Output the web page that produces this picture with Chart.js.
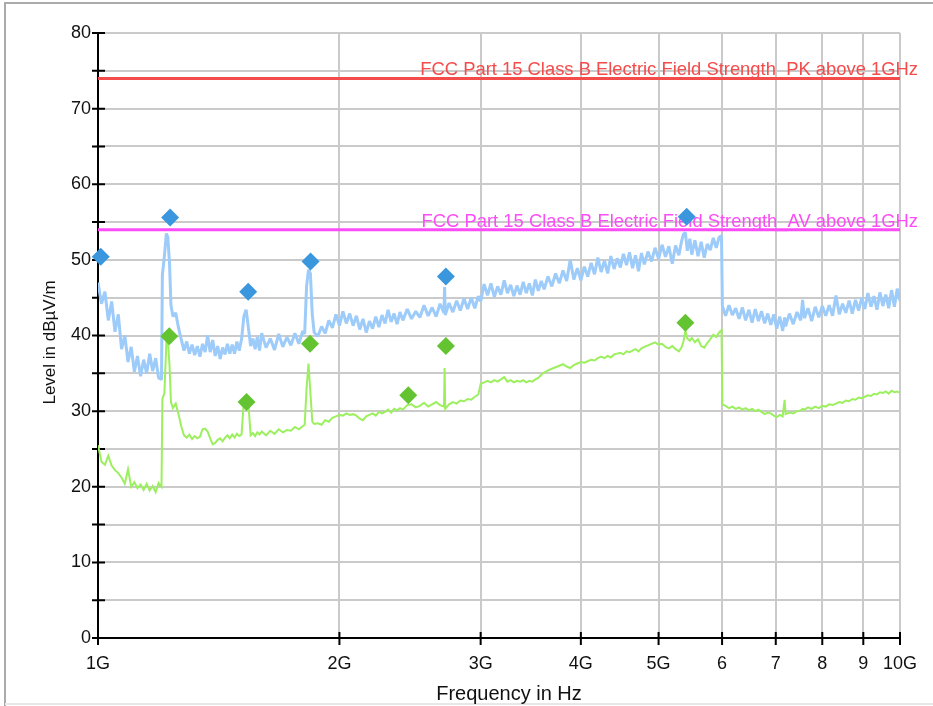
<!DOCTYPE html>
<html>
<head>
<meta charset="utf-8">
<script src="https://cdn.jsdelivr.net/npm/chart.js@4.4.1/dist/chart.umd.min.js"></script>
<style>
  html, body { margin: 0; padding: 0; background: #fff; }
  canvas { display: block; }
</style>
</head>
<body>
<canvas id="emi" width="933" height="706"></canvas>
<script>
// Sweep frequencies in MHz
const freqMHz = [
  1000,1010,1020,1030,1040,1050,1060,1070,1080,1090,
  1100,1110,1120,1130,1140,1150,1160,1170,1180,1190,
  1200,1203,1210,1217,1222,1228,1233,1240,1250,1260,
  1270,1280,1290,1300,1310,1320,1330,1340,1350,1360,
  1370,1380,1390,1400,1410,1420,1430,1440,1450,1460,
  1470,1480,1490,1500,1510,1520,1530,1540,1550,1560,
  1570,1580,1590,1600,1620,1640,1660,1680,1700,1720,
  1740,1760,1780,1800,1810,1820,1830,1840,1850,1860,
  1880,1900,1920,1940,1960,1980,2000,2020,2040,2060,
  2080,2100,2120,2140,2160,2180,2200,2220,2240,2260,
  2280,2300,2320,2340,2360,2380,2400,2430,2460,2490,
  2520,2550,2580,2610,2640,2670,2700,2705,2710,2740,
  2770,2800,2830,2860,2890,2920,2950,2980,3000,3030,
  3060,3090,3120,3150,3180,3210,3240,3270,3300,3330,
  3360,3390,3420,3450,3480,3510,3540,3570,3600,3640,
  3680,3720,3760,3800,3840,3880,3920,3960,4000,4040,
  4080,4120,4160,4200,4240,4280,4320,4360,4400,4440,
  4480,4520,4560,4600,4640,4680,4720,4760,4800,4850,
  4900,4950,5000,5050,5100,5150,5200,5250,5300,5340,
  5370,5400,5430,5470,5500,5550,5600,5650,5700,5750,
  5800,5850,5900,5950,5990,6005,6060,6120,6180,6240,
  6300,6360,6420,6480,6540,6600,6660,6720,6780,6840,
  6900,6960,7020,7080,7140,7180,7200,7280,7360,7440,
  7520,7560,7600,7680,7760,7840,7920,8000,8080,8160,
  8240,8320,8400,8480,8560,8640,8720,8800,8880,8960,
  9040,9120,9200,9280,9360,9440,9520,9600,9680,9760,
  9840,9920,10000
];

// Peak detector trace, dBµV/m
const peakLevel = [
  47.0,44.2,45.8,42.0,44.5,40.5,42.8,38.2,40.0,36.5,
  38.5,35.2,37.3,34.6,36.8,35.0,37.6,35.3,37.0,34.4,
  34.2,48.0,50.5,53.5,53.0,49.5,44.0,42.5,43.0,41.0,
  39.5,38.0,39.2,37.6,38.8,37.4,38.6,37.2,38.9,37.8,
  40.0,37.8,39.4,37.3,38.6,36.9,38.4,37.5,38.9,37.6,
  38.8,37.6,39.2,38.0,39.5,42.5,43.4,41.0,38.6,39.6,
  38.2,39.8,38.0,40.3,38.4,39.6,38.1,40.2,38.5,39.8,
  38.7,40.3,38.9,40.6,40.2,46.5,48.7,48.2,42.8,40.4,
  39.9,41.2,40.3,42.0,41.0,42.8,41.3,43.2,41.6,42.9,
  41.3,42.6,40.8,42.2,40.4,41.9,40.9,42.5,41.1,42.7,
  41.6,43.4,41.8,42.9,41.5,43.1,42.0,43.5,42.2,43.2,
  42.4,44.0,42.6,43.7,42.5,44.2,43.0,46.4,42.7,44.3,
  43.1,44.6,43.3,44.9,43.5,45.0,43.6,45.2,44.5,46.8,
  45.3,46.9,45.1,46.5,45.4,47.3,45.6,46.7,45.2,46.6,
  45.4,47.1,45.6,46.9,45.3,47.4,45.9,47.2,46.1,47.8,
  46.5,48.2,46.9,48.6,47.2,50.0,47.4,48.9,47.3,49.1,
  47.8,49.6,48.1,50.3,48.4,49.9,48.2,50.5,48.8,50.2,
  49.0,50.8,49.3,51.0,48.9,50.6,48.5,50.9,49.4,51.1,
  49.8,51.6,50.1,52.0,50.4,51.8,49.5,51.9,50.6,52.4,
  53.4,53.6,51.2,52.8,50.7,52.6,50.5,52.4,50.3,52.1,
  51.3,52.9,51.6,53.0,53.2,43.9,42.6,44.0,42.7,43.6,
  42.2,43.7,42.0,43.4,41.7,43.5,41.9,43.2,41.6,42.9,
  41.4,42.8,40.9,42.5,40.6,42.4,41.2,42.9,41.5,43.1,
  42.0,44.7,42.3,43.6,41.9,43.8,42.4,43.9,42.6,44.0,
  42.6,45.3,42.8,44.2,43.0,44.6,42.9,44.7,43.3,45.0,
  43.5,45.6,43.8,45.2,43.4,45.7,43.9,45.4,43.6,46.0,
  43.8,46.2,44.6
];

// Average detector trace, dBµV/m
const avgLevel = [
  25.5,23.3,22.9,24.1,22.8,22.2,21.8,21.2,20.4,22.3,
  20.0,20.6,19.8,20.3,19.6,20.4,19.5,20.1,19.3,20.5,
  20.0,31.6,32.4,39.2,39.5,36.0,31.2,30.4,31.0,29.6,
  28.0,26.8,26.5,26.9,26.3,26.7,26.4,26.6,27.6,27.7,
  27.3,26.4,25.6,25.8,26.2,26.4,26.0,26.5,26.8,26.4,
  26.9,26.5,27.0,26.7,26.9,31.3,31.4,31.0,26.8,27.1,
  26.7,27.2,26.9,27.3,26.8,27.4,27.0,27.6,27.2,27.5,
  27.4,27.9,27.6,28.0,28.2,33.0,36.3,32.5,28.6,28.3,
  28.4,28.2,28.8,28.6,29.1,29.3,29.5,29.4,29.7,29.5,
  29.6,29.4,29.0,28.8,29.3,29.5,29.7,29.4,29.9,29.7,
  29.9,30.2,29.8,30.3,30.1,30.4,30.2,30.8,30.9,30.5,
  30.7,31.1,30.6,30.9,31.2,30.8,30.6,35.7,30.3,30.9,
  31.2,31.0,31.4,31.3,31.6,31.5,31.9,32.2,33.6,33.8,
  34.0,33.8,34.1,33.9,34.2,34.5,33.9,34.1,33.8,34.0,
  33.9,34.1,33.8,34.0,33.9,34.2,34.4,34.8,35.1,35.4,
  35.6,35.8,36.0,36.2,35.9,35.7,36.1,36.3,36.5,36.4,
  36.6,36.8,36.7,37.0,37.2,37.0,37.3,37.1,37.5,37.6,
  37.7,37.5,37.9,37.8,38.0,38.2,37.9,38.3,38.5,38.7,
  38.9,39.1,38.8,38.9,38.5,38.3,38.6,38.2,37.9,38.4,
  39.2,40.6,39.6,39.3,39.7,39.1,39.5,38.6,38.4,39.0,
  39.5,40.1,39.8,40.4,40.7,30.9,30.7,30.4,30.6,30.3,
  30.5,30.2,30.4,30.1,30.3,30.0,30.2,29.9,29.6,29.8,
  29.7,29.4,29.2,29.5,29.3,31.5,29.6,29.8,29.7,30.0,
  30.1,30.3,30.2,30.5,30.3,30.6,30.4,30.7,30.6,30.9,
  30.8,31.0,31.2,31.1,31.4,31.3,31.6,31.5,31.8,31.7,
  31.9,32.1,32.0,32.3,32.2,32.5,32.4,32.6,32.3,32.7,
  32.5,32.6,32.4
];

// Final measurement points
const peakMarkFreqMHz = [1008, 1230, 1539, 1841, 2715, 5420];
const peakMarkLevel   = [50.4, 55.6, 45.8, 49.8, 47.8, 55.7];
const avgMarkFreqMHz  = [1227, 1532, 1838, 2437, 2715, 5400];
const avgMarkLevel    = [39.9, 31.2, 38.9, 32.1, 38.6, 41.7];

// Limit lines
const limitNames  = [
  'FCC Part 15 Class B Electric Field Strength_PK above 1GHz',
  'FCC Part 15 Class B Electric Field Strength_AV above 1GHz'
];
const limitLevels = [74, 54];
const limitColors = ['#f44b4b', '#fb4cf7'];

// Axis ticks and titles
const xTickValues = [1e9, 2e9, 3e9, 4e9, 5e9, 6e9, 7e9, 8e9, 9e9, 1e10];
const xTickLabels = ['1G', '2G', '3G', '4G', '5G', '6', '7', '8', '9', '10G'];
const xTitle = 'Frequency in Hz';
const yTitle = 'Level in dBµV/m';

const FONT = "'Liberation Sans', Arial, Helvetica, sans-serif";
const toPoints = (fs, ls) => fs.map((f, i) => ({ x: f * 1e6, y: ls[i] }));

const pageFrame = {
  id: 'pageFrame',
  beforeDraw(chart) {
    const ctx = chart.ctx;
    ctx.save();
    ctx.fillStyle = '#fff';
    ctx.fillRect(0, 0, chart.width, chart.height);
    ctx.strokeStyle = '#ababab';
    ctx.lineWidth = 2;
    ctx.beginPath();
    ctx.moveTo(5, chart.height);
    ctx.lineTo(5, 3);
    ctx.lineTo(chart.width, 3);
    ctx.stroke();
    ctx.strokeStyle = '#e8e8e8';
    ctx.beginPath();
    ctx.moveTo(5, chart.height - 2);
    ctx.lineTo(chart.width, chart.height - 2);
    ctx.stroke();
    ctx.restore();
  },
  afterDraw(chart) {
    // axis titles, placed a little off the scale centres
    const { ctx, scales: { x, y } } = chart;
    ctx.save();
    ctx.fillStyle = '#111';
    ctx.font = '20px ' + FONT;
    ctx.textAlign = 'center';
    ctx.textBaseline = 'alphabetic';
    ctx.fillText(xTitle, (x.left + x.right) / 2 + 10, 700);
    ctx.translate(50, (y.top + y.bottom) / 2 + 7);
    ctx.rotate(-Math.PI / 2);
    ctx.font = '17px ' + FONT;
    ctx.textBaseline = 'middle';
    ctx.fillText(yTitle, 0, 0);
    ctx.restore();
  }
};

const axisMarks = {
  id: 'axisMarks',
  beforeDatasetsDraw(chart) {
    const { ctx, scales: { x, y } } = chart;
    ctx.save();
    ctx.strokeStyle = '#000';
    ctx.lineWidth = 2;
    ctx.beginPath();
    y.ticks.forEach(t => {
      const py = y.getPixelForValue(t.value);
      ctx.moveTo(x.left - 6, py);
      ctx.lineTo(x.left + 7, py);
    });
    x.ticks.forEach(t => {
      const px = x.getPixelForValue(t.value);
      ctx.moveTo(px, y.bottom - 6);
      ctx.lineTo(px, y.bottom + 7);
    });
    ctx.stroke();

    ctx.font = '18.4px ' + FONT;
    ctx.textAlign = 'right';
    ctx.textBaseline = 'alphabetic';
    limitLevels.forEach((lv, i) => {
      ctx.fillStyle = limitColors[i];
      ctx.fillText(limitNames[i], x.right + 18, y.getPixelForValue(lv) - 3);
    });
    ctx.restore();
  }
};

new Chart(document.getElementById('emi'), {
  type: 'line',
  data: {
    datasets: [
      {
        label: 'Peak final',
        data: toPoints(peakMarkFreqMHz, peakMarkLevel),
        showLine: false,
        pointStyle: 'rectRot',
        pointRadius: 9,
        pointBorderWidth: 0,
        pointBackgroundColor: '#3b97dd',
        clip: false,
        order: 0
      },
      {
        label: 'Average final',
        data: toPoints(avgMarkFreqMHz, avgMarkLevel),
        showLine: false,
        pointStyle: 'rectRot',
        pointRadius: 9,
        pointBorderWidth: 0,
        pointBackgroundColor: '#63c331',
        clip: false,
        order: 0
      },
      {
        label: limitNames[0],
        data: [{ x: 1e9, y: limitLevels[0] }, { x: 1e10, y: limitLevels[0] }],
        borderColor: limitColors[0],
        borderWidth: 3,
        pointRadius: 0,
        order: 1
      },
      {
        label: limitNames[1],
        data: [{ x: 1e9, y: limitLevels[1] }, { x: 1e10, y: limitLevels[1] }],
        borderColor: limitColors[1],
        borderWidth: 3,
        pointRadius: 0,
        order: 1
      },
      {
        label: 'Average',
        data: toPoints(freqMHz, avgLevel),
        borderColor: '#9cef5e',
        borderWidth: 2,
        pointRadius: 0,
        tension: 0,
        order: 2
      },
      {
        label: 'Peak',
        data: toPoints(freqMHz, peakLevel),
        borderColor: '#9dcbfa',
        borderWidth: 3,
        borderJoinStyle: 'bevel',
        pointRadius: 0,
        tension: 0,
        order: 3
      }
    ]
  },
  options: {
    responsive: false,
    animation: false,
    events: [],
    layout: { padding: { top: 33, right: 33, left: 0, bottom: 0 } },
    plugins: { legend: { display: false }, tooltip: { enabled: false } },
    scales: {
      x: {
        type: 'logarithmic',
        min: 1e9,
        max: 1e10,
        afterBuildTicks: s => { s.ticks = xTickValues.map(v => ({ value: v })); },
        afterFit: s => { s.height = 68; },
        grid: { color: '#cacaca', lineWidth: 2, drawTicks: false },
        border: { display: true, color: '#000', width: 2 },
        ticks: {
          autoSkip: false,
          maxRotation: 0,
          padding: 15,
          color: '#111',
          font: { family: FONT, size: 18 },
          callback: (v, i) => xTickLabels[i]
        },
        title: { display: false }
      },
      y: {
        type: 'linear',
        min: 0,
        max: 80,
        afterFit: s => { s.width = 98; },
        grid: { color: '#cacaca', lineWidth: 2, drawTicks: false },
        border: { display: true, color: '#000', width: 2 },
        ticks: {
          stepSize: 5,
          padding: 7,
          color: '#111',
          font: { family: FONT, size: 18 },
          callback: v => (v % 10 === 0 ? String(v) : '')
        },
        title: { display: false }
      }
    }
  },
  plugins: [pageFrame, axisMarks]
});
</script>
</body>
</html>
